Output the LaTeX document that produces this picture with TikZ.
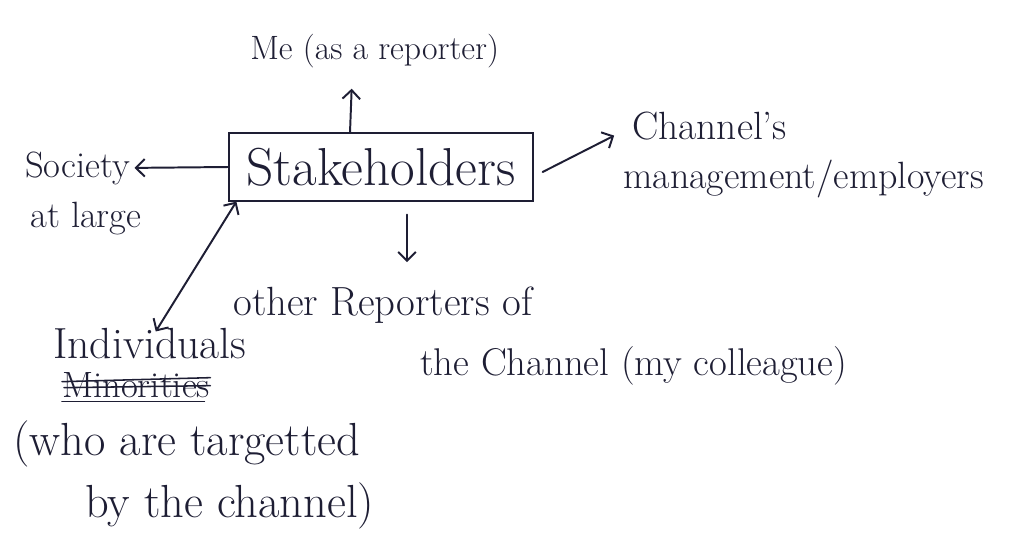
\documentclass[tikz,border=0pt]{standalone}
\usepackage{tikz}
\usetikzlibrary{arrows.meta,calc}
\definecolor{inkdark}{RGB}{30,30,52}
\tikzset{
  hand/.style={
    inner sep=0pt,
    anchor=base west,
    text=inkdark,
    font=\fontsize{28}{34}\selectfont,
  },
  hand box/.style={
    draw=inkdark,
    line width=1.4pt,
    inner sep=0pt,
    minimum width=7.58cm,
    minimum height=1.68cm,
    text=inkdark,
    font=\fontsize{38}{44}\selectfont,
  },
  hand arrow/.style={
    -{Straight Barb[length=2.2mm,width=4.4mm]},
    line width=1.4pt,
    draw=inkdark,
    line cap=round,
  },
  strike/.style={draw=inkdark, line width=1.1pt, line cap=round},
}

\begin{document}
\begin{tikzpicture}[x=0.025cm,y=-0.025cm]
  \useasboundingbox (0,0) rectangle (1033,558);

  \node[hand box] (stake) at (381,167) {Stakeholders};

  \node[hand, font=\fontsize{24}{30}\selectfont] (me) at (250,60) {Me (as a reporter)};
  \node[hand, font=\fontsize{26}{32}\selectfont] (society1) at (25,177) {Society};
  \node[hand, font=\fontsize{26}{32}\selectfont] (society2) at (30,227) {at large};
  \node[hand] (channel1) at (632,140) {Channel's};
  \node[hand, font=\fontsize{27}{32}\selectfont] (channel2) at (623,188) {management/employers};
  \node[hand, font=\fontsize{29}{34}\selectfont] (reporters1) at (233,315) {other Reporters of};
  \node[hand, font=\fontsize{27.5}{33}\selectfont] (reporters2) at (420,375) {the Channel (my colleague)};
  \node[hand, font=\fontsize{31}{36}\selectfont] (indiv) at (53,358) {Individuals};
  \node[hand, font=\fontsize{26}{30}\selectfont] (minor) at (62,397) {Minorities};
  \node[hand, font=\fontsize{33}{38}\selectfont] (target1) at (13,455) {(who are targetted};
  \node[hand, font=\fontsize{33}{38}\selectfont] (target2) at (85,517) {by the channel)};

  % crossed out word
  \draw[strike] ($(minor.west)+(0,-3)$) -- ($(minor.east)+(0,-7)$);
  \draw[strike] ($(minor.west)+(2,3)$) -- ($(minor.east)+(0,1)$);
  \draw[strike] ($(minor.south west)+(0,4)$) -- ($(minor.south east)+(-6,4)$);

  \coordinate (up) at ($(stake.north)+(-31,0)$);
  \coordinate (dn) at ($(stake.south)+(26,13)$);
  \coordinate (ind) at ($(indiv.north)+(6,4)$);

  \draw[hand arrow] (up) -- ($(me.south)+(-23,20)$);
  \draw[hand arrow, shorten >=1mm] (stake.west) -- (society1.east);
  \draw[hand arrow, shorten >=5mm] ($(stake.east)+(9,5)$) -- (channel1.west);
  \draw[hand arrow, shorten >=6mm] (dn) -- (dn |- reporters1.north);
  \draw[hand arrow, {Straight Barb[length=2.2mm,width=4.4mm]}-{Straight Barb[length=2.2mm,width=4.4mm]}]
    ($(stake.south west)+(8,0)$) -- (ind);
\end{tikzpicture}
\end{document}
